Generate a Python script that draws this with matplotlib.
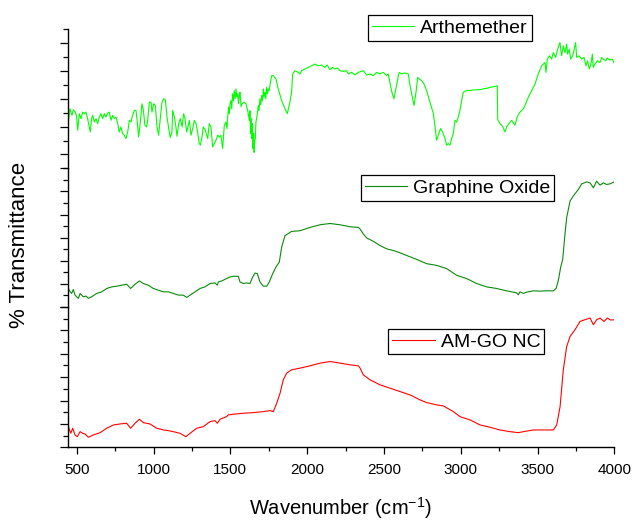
import matplotlib
matplotlib.use("Agg")
import matplotlib.pyplot as plt
import numpy as np
from matplotlib.ticker import FixedLocator, MultipleLocator, NullFormatter

plt.rcParams['font.family'] = ['Liberation Sans', 'DejaVu Sans']
plt.rcParams['mathtext.fontset'] = 'custom'
plt.rcParams['mathtext.rm'] = 'Liberation Sans'

# ---------------- data (arbitrary transmittance units per panel) ----------------
art_wn = [441, 447, 456, 469, 478, 491, 500, 506, 517, 528, 539, 550, 560, 571, 582, 588,
          597, 604, 615, 626, 636, 647, 658, 669, 680, 690, 701, 712, 723, 734, 745, 756,
          767, 777, 788, 799, 810, 821, 832, 843, 853, 864, 875, 886, 892, 903, 912, 925,
          934, 944, 955, 962, 973, 984, 990, 1001, 1012, 1023, 1033, 1044, 1055, 1066, 1077,
          1088, 1099, 1109, 1120, 1125, 1136, 1146, 1153, 1164, 1175, 1186, 1196, 1205, 1216,
          1224, 1233, 1244, 1255, 1266, 1277, 1287, 1298, 1305, 1316, 1324, 1337, 1353, 1363,
          1374, 1385, 1396, 1407, 1418, 1428, 1439, 1450, 1461, 1472, 1478, 1483, 1489, 1494,
          1498, 1504, 1509, 1515, 1520, 1526, 1531, 1537, 1542, 1548, 1554, 1558, 1563, 1570,
          1576, 1591, 1602, 1613, 1624, 1628, 1632, 1636, 1640, 1644, 1648, 1652, 1655, 1659,
          1663, 1667, 1676, 1682, 1687, 1693, 1698, 1704, 1710, 1715, 1720, 1726, 1731, 1736,
          1741, 1747, 1752, 1758, 1764, 1769, 1780, 1797, 1812, 1834, 1856, 1871, 1888, 1899,
          1906, 1921, 1943, 1954, 1964, 1986, 2008, 2029, 2051, 2073, 2094, 2116, 2131, 2149,
          2166, 2181, 2197, 2214, 2236, 2257, 2268, 2290, 2311, 2333, 2366, 2388, 2409, 2431,
          2453, 2474, 2496, 2518, 2528, 2539, 2552, 2565, 2578, 2594, 2600, 2615, 2637, 2659,
          2670, 2683, 2696, 2709, 2720, 2730, 2746, 2761, 2778, 2800, 2822, 2833, 2843, 2854,
          2869, 2882, 2898, 2909, 2919, 2930, 2941, 2952, 2963, 2974, 2984, 2995, 3006, 3017,
          3039, 3060, 3082, 3104, 3126, 3147, 3169, 3191, 3223, 3238, 3241, 3256, 3273, 3288,
          3299, 3314, 3332, 3353, 3369, 3386, 3408, 3425, 3440, 3462, 3484, 3505, 3527, 3538,
          3549, 3555, 3564, 3577, 3592, 3603, 3618, 3631, 3646, 3657, 3668, 3679, 3690, 3696,
          3707, 3716, 3729, 3737, 3748, 3755, 3770, 3787, 3803, 3816, 3826, 3837, 3848, 3857,
          3863, 3874, 3891, 3907, 3918, 3928, 3944, 3954, 3972, 3987, 4000]
art_t = [58.3, 48.3, 60.0, 53.3, 59.0, 56.6, 51.6, 38.3, 55.0, 50.0, 56.6, 55.0, 56.6, 50.0, 41.6, 36.6,
         50.0, 53.3, 46.6, 50.0, 45.0, 51.6, 55.0, 50.0, 55.0, 51.6, 55.6, 56.6, 48.3, 53.3, 50.0, 51.6,
         45.0, 36.6, 41.6, 35.0, 33.3, 30.0, 36.6, 48.3, 46.6, 53.3, 58.3, 58.3, 50.0, 31.6, 43.3, 65.0,
         58.3, 43.3, 41.6, 48.3, 66.6, 66.6, 56.6, 65.0, 63.3, 41.6, 33.3, 50.0, 66.6, 70.0, 69.0,
         51.6, 40.0, 31.0, 36.6, 58.3, 51.6, 41.6, 32.3, 45.0, 50.0, 41.6, 55.0, 50.0, 36.6,
         41.6, 48.3, 33.3, 40.0, 48.3, 45.0, 36.6, 25.0, 23.3, 31.6, 41.6, 38.3, 30.0, 45.0,
         41.6, 21.6, 25.0, 28.3, 33.3, 31.6, 33.3, 20.0, 43.3, 46.6, 40.0, 51.6, 61.6, 55.0,
         65.0, 68.3, 60.0, 75.0, 68.0, 78.3, 70.0, 80.0, 72.0, 75.0, 65.0, 73.0, 76.6, 62.0,
         65.0, 66.6, 65.0, 58.3, 48.3, 58.0, 35.0, 50.0, 30.0, 45.0, 20.0, 35.0, 16.0, 28.0,
         30.0, 46.6, 55.0, 63.3, 58.0, 70.0, 64.0, 73.3, 68.0, 80.0, 72.0, 76.6, 70.0, 81.6,
         75.0, 80.0, 78.0, 83.3, 88.0, 93.3, 93.3, 90.0, 80.0, 68.3, 60.0, 55.0, 66.6, 76.6,
         95.0, 98.3, 96.6, 95.0, 98.3, 100.0, 101.6, 103.3, 105.0, 103.3, 104.0, 101.6, 104.0, 99.3,
         101.6, 100.0, 101.0, 98.3, 97.6, 98.3, 95.0, 96.6, 94.0, 96.6, 98.3, 94.0, 95.0, 93.3,
         96.6, 95.0, 96.6, 93.3, 95.0, 86.6, 76.6, 70.0, 80.0, 93.3, 96.6, 95.0, 96.0, 95.0,
         83.3, 73.3, 63.3, 76.6, 91.6, 90.0, 88.3, 85.0, 78.3, 66.6, 55.0, 41.6, 28.3, 33.3,
         40.0, 36.6, 30.0, 23.3, 25.0, 23.3, 30.0, 35.0, 48.3, 46.6, 51.6, 58.3, 68.3, 76.6,
         78.3, 78.3, 79.0, 79.0, 79.3, 80.0, 80.6, 81.6, 82.3, 83.3, 49.0, 45.0, 42.3, 36.6,
         41.6, 45.0, 48.3, 43.3, 52.3, 56.6, 60.0, 65.6, 71.6, 78.3, 85.0, 95.0, 103.3, 105.0,
         106.6, 96.6, 110.0, 113.3, 110.0, 116.6, 111.6, 120.0, 126.6, 113.3, 123.3, 116.6, 125.0, 115.0,
         120.0, 110.0, 113.3, 118.3, 126.6, 111.6, 113.3, 110.0, 111.6, 103.3, 108.3, 100.0, 105.0, 115.0,
         101.6, 105.0, 108.3, 106.6, 111.6, 110.0, 108.3, 111.0, 109.0, 110.0, 105.6]

go_wn = [446, 457, 467, 478, 489, 500, 511, 522, 532, 543, 561, 576, 597, 630, 663, 695,
         728, 760, 793, 825, 851, 880, 908, 934, 966, 999, 1031, 1064, 1097, 1129, 1162, 1194,
         1216, 1238, 1270, 1303, 1335, 1368, 1400, 1416, 1422, 1444, 1476, 1498, 1520, 1552,
         1563, 1585, 1606, 1628, 1646, 1661, 1676, 1693, 1715, 1737, 1754, 1776, 1797, 1819,
         1834, 1856, 1899, 1954, 2019, 2084, 2149, 2214, 2280, 2334, 2345, 2366, 2388, 2431,
         2475, 2518, 2562, 2605, 2648, 2714, 2779, 2844, 2909, 2974, 3039, 3104, 3169, 3234,
         3299, 3364, 3375, 3386, 3408, 3430, 3473, 3516, 3560, 3603, 3621, 3636, 3651, 3664,
         3679, 3690, 3712, 3733, 3766, 3788, 3820, 3842, 3864, 3885, 3907, 3929, 3950, 3972, 4000]
go_t = [18.7, 15.3, 13.7, 17.7, 12.0, 10.3, 8.7, 13.7, 12.0, 10.3, 11.0, 8.7, 10.3, 13.7, 15.3, 18.7,
        20.3, 21.0, 22.0, 23.0, 18.7, 23.0, 26.3, 23.7, 22.0, 18.7, 17.0, 15.3, 15.3, 13.7, 12.0, 12.0,
        9.7, 12.0, 15.3, 18.7, 20.3, 23.7, 24.3, 22.0, 25.3, 26.3, 28.7, 30.3, 31.0, 31.0,
        25.3, 23.7, 24.3, 23.7, 30.3, 34.3, 33.7, 25.3, 21.0, 21.0, 25.3, 33.7, 40.3, 45.3,
        60.3, 72.0, 76.3, 77.0, 80.3, 83.0, 84.3, 83.0, 81.0, 80.3, 78.7, 73.7, 69.7, 66.3,
        62.0, 58.7, 57.0, 54.7, 52.0, 48.0, 43.7, 42.0, 38.7, 32.0, 28.7, 23.7, 20.3, 18.7,
        16.3, 14.3, 12.3, 15.3, 13.7, 15.0, 16.3, 16.0, 16.3, 16.3, 18.7, 27.0, 40.3, 48.0,
        73.7, 90.3, 107.0, 112.0, 118.7, 124.3, 126.3, 125.3, 120.3, 127.0, 123.0, 125.3, 123.7, 124.3, 126.3]

amgo_wn = [446, 461, 474, 489, 504, 522, 539, 554, 576, 608, 652, 695, 739, 782, 825, 851,
           880, 908, 934, 977, 1021, 1064, 1097, 1129, 1172, 1211, 1238, 1281, 1324, 1368, 1400,
           1416, 1433, 1476, 1487, 1520, 1585, 1650, 1715, 1758, 1780, 1802, 1824, 1845, 1867,
           1899, 1954, 2019, 2084, 2149, 2214, 2280, 2334, 2345, 2366, 2410, 2475, 2540, 2605,
           2670, 2735, 2779, 2844, 2887, 2952, 2996, 3061, 3126, 3191, 3256, 3321, 3375, 3408,
           3473, 3538, 3603, 3625, 3647, 3668, 3690, 3712, 3744, 3777, 3809, 3842, 3864, 3885,
           3907, 3933, 3955, 3976, 4000]
amgo_t = [20.6, 14.0, 19.0, 12.3, 10.6, 15.6, 14.0, 13.3, 10.0, 12.3, 14.6, 19.0, 22.3, 23.3, 24.0, 19.0,
          24.0, 28.0, 24.6, 23.3, 19.0, 17.3, 16.6, 15.6, 14.0, 10.6, 14.0, 19.0, 20.6, 25.6, 26.6,
          24.0, 28.0, 30.6, 32.3, 33.0, 34.0, 34.6, 35.6, 36.6, 35.6, 44.0, 54.0, 67.3, 74.0,
          77.3, 79.0, 81.3, 84.0, 85.6, 84.0, 82.3, 81.3, 79.0, 72.3, 67.3, 62.3, 59.0, 55.6,
          52.3, 47.3, 44.6, 42.3, 41.3, 35.6, 30.6, 27.3, 22.3, 20.0, 17.3, 15.6, 14.6, 15.6,
          17.3, 17.3, 17.3, 22.3, 40.6, 77.3, 100.6, 110.6, 117.3, 125.6, 127.3, 129.0, 122.3, 127.3,
          129.0, 125.6, 129.0, 127.0, 127.3]

labels = ['Arthemether', 'Graphine Oxide', 'AM-GO NC']
colors = ['#00FF00', '#0A8A0A', '#FF0000']
xticks_major = [500, 1000, 1500, 2000, 2500, 3000, 3500, 4000]

# ---------------- layout ----------------
W, H = 633, 522
fig = plt.figure(figsize=(W / 100, H / 100), dpi=100)

x0, x1 = 67.5, 614.3
panels_px = [(29.3, 168.3), (168.3, 307.0), (307.0, 447.3)]
n_int = [10, 12, 12]
legend_px = [(367.7, 28.0), (360.7, 188.0), (388.3, 341.7)]
series = [(art_wn, art_t), (go_wn, go_t), (amgo_wn, amgo_t)]

for i, ((top, bot), (wn, tt)) in enumerate(zip(panels_px, series)):
    ax = fig.add_axes([x0 / W, 1 - bot / H, (x1 - x0) / W, (bot - top) / H])
    ax.plot(wn, tt, color=colors[i], lw=0.8, label=labels[i])
    ax.set_xlim(440, 4000)
    ax.set_ylim(0, 140)
    for s in ['top', 'right']:
        ax.spines[s].set_visible(False)
    ax.spines['left'].set_linewidth(1.0)
    n = n_int[i]
    vals = [140 * k / n for k in range(n + 1)]
    if i == 0:
        major = [v for k, v in enumerate(vals) if k % 2 == 1]
        minor = [v for k, v in enumerate(vals) if k % 2 == 0]
    else:
        major = [v for k, v in enumerate(vals) if k % 2 == 0]
        minor = [v for k, v in enumerate(vals) if k % 2 == 1]
    ax.yaxis.set_major_locator(FixedLocator(major))
    ax.yaxis.set_minor_locator(FixedLocator(minor))
    ax.yaxis.set_major_formatter(NullFormatter())
    ax.tick_params(axis='y', which='major', direction='out', length=5.8, width=0.9)
    ax.tick_params(axis='y', which='minor', direction='out', length=3.4, width=0.9)
    if i < 2:
        ax.spines['bottom'].set_visible(False)
        ax.tick_params(axis='x', which='both', bottom=False, labelbottom=False)
    else:
        ax.spines['bottom'].set_linewidth(1.0)
        ax.xaxis.set_major_locator(FixedLocator(xticks_major))
        ax.xaxis.set_minor_locator(MultipleLocator(250))
        ax.tick_params(axis='x', which='major', direction='out', length=5, width=0.9,
                       labelsize=11, pad=6)
        ax.tick_params(axis='x', which='minor', direction='out', length=3, width=0.9)
    ax.patch.set_alpha(0)
    lx, ly = legend_px[i]
    leg = ax.legend(loc='center left', bbox_to_anchor=(lx / W, 1 - ly / H),
                    bbox_transform=fig.transFigure, fontsize=14, frameon=True,
                    fancybox=False, framealpha=1, edgecolor='black', borderpad=0.2,
                    handlelength=2.2, handletextpad=0.3, borderaxespad=0)
    leg.get_frame().set_linewidth(0.9)

fig.text(340 / W, 1 - 508 / H, r'Wavenumber (cm$^{\mathregular{-1}}$)', ha='center',
         va='center', fontsize=14.5)
fig.text(20 / W, 1 - 245 / H, '% Transmittance', rotation=90, ha='center', va='center',
         fontsize=16)

fig.savefig('out.png', dpi=100)
